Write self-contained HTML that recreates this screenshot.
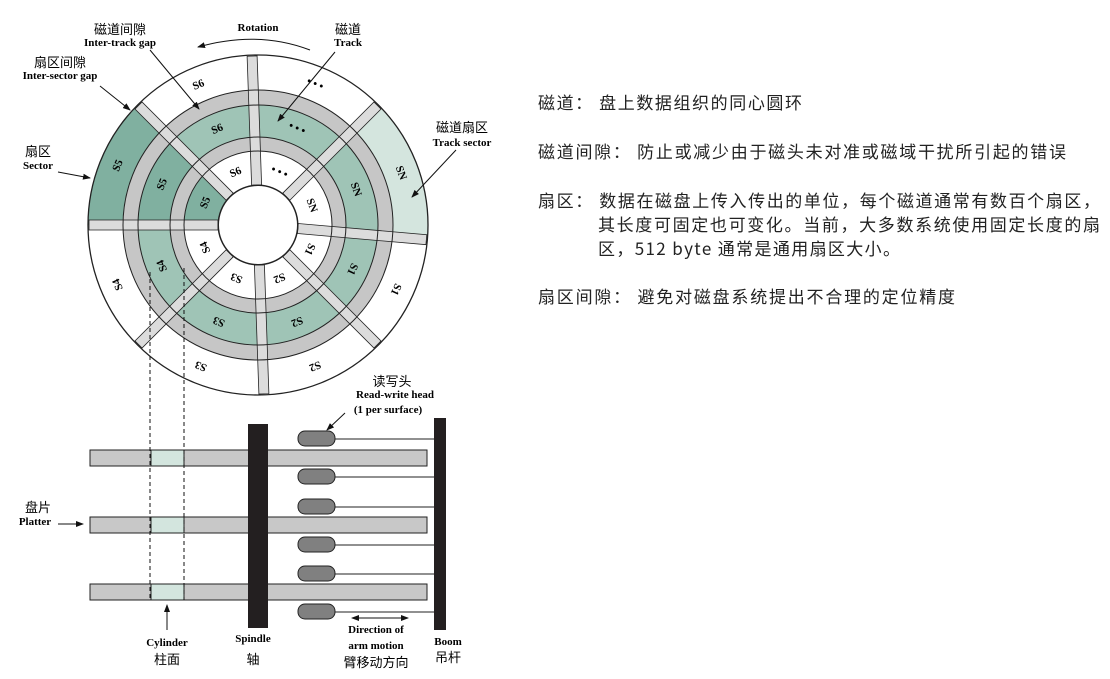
<!DOCTYPE html>
<html><head><meta charset="utf-8"><style>
body{margin:0;background:#fff;}
svg{display:block}
.b{font-family:"Liberation Serif","Noto Serif CJK SC",serif;font-weight:bold;font-size:11px}
.c{font-family:"Liberation Sans","Noto Sans CJK SC",sans-serif;font-size:13px}
.s{font-family:"Liberation Serif",serif;font-weight:bold;font-size:11px;text-anchor:middle;dominant-baseline:central}
.r{font-family:"WenQuanYi Zen Hei","Noto Sans CJK SC",sans-serif;font-size:17px;fill:#222}
</style></head><body>
<svg id="svg" width="1110" height="679" viewBox="0 0 1110 679" xmlns="http://www.w3.org/2000/svg">
<defs><marker id="ah" markerWidth="8" markerHeight="8" refX="7" refY="4" orient="auto" markerUnits="userSpaceOnUse"><path d="M0,1 L8,4 L0,7 Z" fill="#111"/></marker></defs>
<g id="disk"></g>
<g id="labels">
<text class="s" transform="translate(235.7,172.5) rotate(-23)">S6</text>
<text class="s" transform="translate(279.4,172.2) rotate(23)">• • •</text>
<text class="s" transform="translate(311.6,205.5) rotate(70)">SN</text>
<text class="s" transform="translate(309.6,249.1) rotate(115)">S1</text>
<text class="s" transform="translate(279.4,277.8) rotate(158)">S2</text>
<text class="s" transform="translate(236.6,277.8) rotate(202)">S3</text>
<text class="s" transform="translate(205.5,247.3) rotate(247)">S4</text>
<text class="s" transform="translate(205.5,202.7) rotate(-67)">S5</text>
<text class="s" transform="translate(217.3,129.2) rotate(-23)">S6</text>
<text class="s" transform="translate(297,128.6) rotate(23)">• • •</text>
<text class="s" transform="translate(355.8,189.4) rotate(70)">SN</text>
<text class="s" transform="translate(352.2,269) rotate(115)">S1</text>
<text class="s" transform="translate(297,321.4) rotate(158)">S2</text>
<text class="s" transform="translate(219,321.4) rotate(202)">S3</text>
<text class="s" transform="translate(162.2,265.7) rotate(247)">S4</text>
<text class="s" transform="translate(162.2,184.3) rotate(-67)">S5</text>
<text class="s" transform="translate(198.6,85) rotate(-23)">S6</text>
<text class="s" transform="translate(315,84.1) rotate(23)">• • •</text>
<text class="s" transform="translate(400.9,173) rotate(70)">SN</text>
<text class="s" transform="translate(395.7,289.3) rotate(115)">S1</text>
<text class="s" transform="translate(315,365.9) rotate(158)">S2</text>
<text class="s" transform="translate(201,365.9) rotate(202)">S3</text>
<text class="s" transform="translate(118,284.4) rotate(247)">S4</text>
<text class="s" transform="translate(118,165.6) rotate(-67)">S5</text>
</g>
<g text-anchor="middle">
<text class="b" x="258" y="31">Rotation</text>
<text class="c" x="120" y="34">磁道间隙</text><text class="b" x="120" y="46">Inter-track gap</text>
<text class="c" x="348" y="34">磁道</text><text class="b" x="348" y="46">Track</text>
<text class="c" x="60" y="67">扇区间隙</text><text class="b" x="60" y="79">Inter-sector gap</text>
<text class="c" x="38" y="156">扇区</text><text class="b" x="38" y="169">Sector</text>
<text class="c" x="462" y="132">磁道扇区</text><text class="b" x="462" y="146">Track sector</text>
<text class="c" x="392" y="386">读写头</text><text class="b" x="395" y="398">Read-write head</text>
<text class="b" x="388" y="413">(1 per surface)</text>
<text class="c" x="38" y="512">盘片</text><text class="b" x="35" y="525">Platter</text>
<text class="b" x="167" y="646">Cylinder</text><text class="c" x="167" y="664">柱面</text>
<text class="b" x="253" y="642">Spindle</text><text class="c" x="253" y="664">轴</text>
<text class="b" x="376" y="633">Direction of</text><text class="b" x="376" y="649">arm motion</text><text class="c" x="376" y="667">臂移动方向</text>
<text class="b" x="448" y="645">Boom</text><text class="c" x="448" y="662">吊杆</text>
</g>
<g stroke="#111" stroke-width="1" fill="none">
<path d="M310,50 Q258,30 198,47" marker-end="url(#ah)"/>
<line x1="150" y1="50" x2="199" y2="109" marker-end="url(#ah)"/>
<line x1="100" y1="86" x2="130" y2="110" marker-end="url(#ah)"/>
<line x1="58" y1="172" x2="90" y2="178" marker-end="url(#ah)"/>
<line x1="335" y1="52" x2="278" y2="121" marker-end="url(#ah)"/>
<line x1="456" y1="150" x2="412" y2="197" marker-end="url(#ah)"/>
<line x1="345" y1="413" x2="327" y2="430" marker-end="url(#ah)"/>
<line x1="58" y1="524" x2="83" y2="524" marker-end="url(#ah)"/>
<line x1="167" y1="630" x2="167" y2="605" marker-end="url(#ah)"/>
<line x1="380" y1="618" x2="408" y2="618" marker-end="url(#ah)"/>
<line x1="380" y1="618" x2="352" y2="618" marker-end="url(#ah)"/>
</g>
<g stroke="#222" stroke-width="1">
<rect x="90" y="450" width="337" height="16" fill="#c8c8c8"/>
<rect x="90" y="517" width="337" height="16" fill="#c8c8c8"/>
<rect x="90" y="584" width="337" height="16" fill="#c8c8c8"/>
<rect x="151" y="450" width="33" height="16" fill="#d3e5de"/>
<rect x="151" y="517" width="33" height="16" fill="#d3e5de"/>
<rect x="151" y="584" width="33" height="16" fill="#d3e5de"/>
</g>
<g stroke="#111" stroke-width="1" stroke-dasharray="4,3">
<line x1="150" y1="272" x2="150" y2="600"/>
<line x1="184" y1="268" x2="184" y2="600"/>
</g>
<rect x="248" y="424" width="20" height="204" fill="#231f20"/>
<rect x="434" y="418" width="12" height="212" fill="#231f20"/>
<g stroke="#222" stroke-width="1">
<line x1="335" y1="439" x2="434" y2="439"/><line x1="335" y1="477" x2="434" y2="477"/>
<line x1="335" y1="507" x2="434" y2="507"/><line x1="335" y1="545" x2="434" y2="545"/>
<line x1="335" y1="574" x2="434" y2="574"/><line x1="335" y1="612" x2="434" y2="612"/>
<g fill="#808080">
<rect x="298" y="431" width="37" height="15" rx="7"/><rect x="298" y="469" width="37" height="15" rx="7"/>
<rect x="298" y="499" width="37" height="15" rx="7"/><rect x="298" y="537" width="37" height="15" rx="7"/>
<rect x="298" y="566" width="37" height="15" rx="7"/><rect x="298" y="604" width="37" height="15" rx="7"/>
</g></g>
<text class="r" x="538" y="109" textLength="264" lengthAdjust="spacing">磁道： 盘上数据组织的同心圆环</text>
<text class="r" x="538" y="158" textLength="528" lengthAdjust="spacing">磁道间隙： 防止或减少由于磁头未对准或磁域干扰所引起的错误</text>
<text class="r" x="538" y="207" textLength="562" lengthAdjust="spacing">扇区： 数据在磁盘上传入传出的单位，每个磁道通常有数百个扇区，</text>
<text class="r" x="598" y="231" textLength="502" lengthAdjust="spacing">其长度可固定也可变化。当前，大多数系统使用固定长度的扇</text>
<text class="r" x="598" y="255" textLength="302" lengthAdjust="spacing">区，512 byte 通常是通用扇区大小。</text>
<text class="r" x="538" y="303" textLength="417" lengthAdjust="spacing">扇区间隙： 避免对磁盘系统提出不合理的定位精度</text>
</svg>
<script>
(function(){
var cx=258,cy=225,NS="http://www.w3.org/2000/svg",g=document.getElementById('disk');
function el(t,a){var e=document.createElementNS(NS,t);for(var k in a)e.setAttribute(k,a[k]);g.appendChild(e);return e;}
function pt(r,a){a=a*Math.PI/180;return [cx+r*Math.cos(a),cy-r*Math.sin(a)];}
function wedge(r1,r2,a1,a2,f){var p1=pt(r2,a1),p2=pt(r2,a2),p3=pt(r1,a2),p4=pt(r1,a1);
var large=(a1-a2)>180?1:0;
el('path',{d:'M'+p1+' A'+r2+','+r2+' 0 '+large+' 1 '+p2+' L'+p3+' A'+r1+','+r1+' 0 '+large+' 0 '+p4+' Z',fill:f,stroke:'none'});}
el('circle',{cx:cx,cy:cy,r:170,fill:'#fff'});
var W='#fff',M='#9fc4b6',D='#80b0a0',L='#d4e5de';
var secs=[[92,45,[W,M,W]],[45,-5,[W,M,L]],[-5,-45,[W,M,W]],[-45,-88,[W,M,W]],[-88,-135,[W,M,W]],[-135,-180,[W,M,W]],[180,135,[D,D,D]],[135,92,[W,M,W]]];
var rings=[[40,74],[88,120],[135,170]];
secs.forEach(function(s){for(var i=0;i<3;i++)wedge(rings[i][0],rings[i][1],s[0],s[1],s[2][i]);});
[[74,88],[120,135]].forEach(function(r){el('circle',{cx:cx,cy:cy,r:(r[0]+r[1])/2,fill:'none',stroke:'#c6c6c6','stroke-width':r[1]-r[0]});});
[92,45,-5,-45,-88,-135,180,135].forEach(function(a){
var t=a*Math.PI/180,ux=Math.cos(t),uy=-Math.sin(t),nx=-uy*5,ny=ux*5;
var p=[[cx+40*ux+nx,cy+40*uy+ny],[cx+169*ux+nx,cy+169*uy+ny],[cx+169*ux-nx,cy+169*uy-ny],[cx+40*ux-nx,cy+40*uy-ny]];
el('polygon',{points:p.join(' '),fill:'#dcdcdc',stroke:'#222','stroke-width':0.8});});
[40,74,88,120,135].forEach(function(r){el('circle',{cx:cx,cy:cy,r:r,fill:'none',stroke:'#222','stroke-width':1});});
el('circle',{cx:cx,cy:cy,r:170,fill:'none',stroke:'#222','stroke-width':1.3});
el('circle',{cx:cx,cy:cy,r:39.5,fill:'#fff',stroke:'#222','stroke-width':1});
})();
</script>
</body></html>
